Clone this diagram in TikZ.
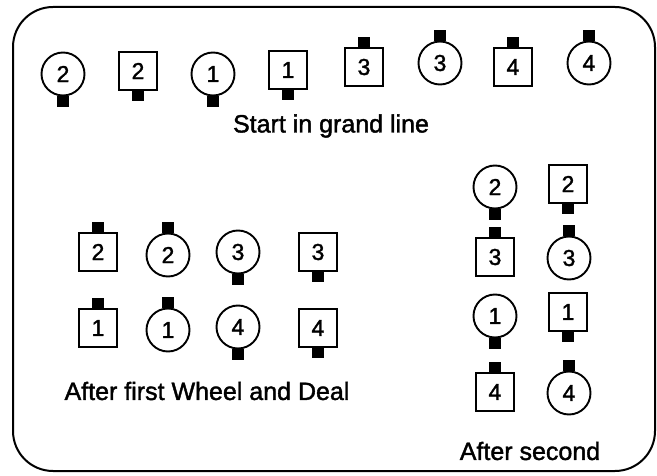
\documentclass[tikz,border=0pt]{standalone}
\usepackage{fontspec}
\setmainfont{Liberation Sans}[FakeBold=1.6]
\usetikzlibrary{positioning}
\tikzset{
  dancer/.style={draw, line width=1.9pt, inner sep=0pt, font=\fontsize{23}{23}\selectfont},
  boy/.style={dancer, rectangle, minimum size=38pt},
  girl/.style={dancer, circle, minimum size=43pt},
  nose/.style={fill=black, rectangle, minimum width=12pt, minimum height=11pt, inner sep=0pt, outer sep=0pt},
  down/.style={label={[nose, label distance=-0.5pt]below:{}}},
  up/.style={label={[nose, label distance=-0.5pt]above:{}}},
  caption/.style={font=\fontsize{25}{25}\selectfont},
}

\begin{document}
\begin{tikzpicture}[x=1pt, y=-1pt]
        \useasboundingbox (0,0) rectangle (657,476);
        \draw[line width=2pt, rounded corners=40pt] (13,7) rectangle (655,471);

        % start in grand line
        \node[girl, down] (sg2) at (63,74) {2};
        \node[boy, down]  (sb2) at (138,71) {2};
        \node[girl, down] (sg1) at (213,74) {1};
        \node[boy, down]  (sb1) at (288,70) {1};
        \node[boy, up]    (sb3) at (364,67) {3};
        \node[girl, up]   (sg3) at (440,63) {3};
        \node[boy, up]    (sb4) at (513,67) {4};
        \node[girl, up]   (sg4) at (589,63) {4};
        \node[caption] (start) at (331,126) {Start in grand line};

        % after first wheel and deal
        \node[boy, up]    (fb2) at (98,252) {2};
        \node[girl, up]   (fg2) at (168,255) {2};
        \node[girl, down] (fg3) at (238,252) {3};
        \node[boy, down]  (fb3) at (318,252) {3};
        \node[boy, up]    (fb1) at (98,328) {1};
        \node[girl, up]   (fg1) at (168,330) {1};
        \node[girl, down] (fg4) at (238,327) {4};
        \node[boy, down]  (fb4) at (318,328) {4};
        \node[caption] (first) at (207,391) {After first Wheel and Deal};

        % after second
        \node[girl, down] (tg2) at (495,187) {2};
        \node[boy, down]  (tb2) at (568,184) {2};
        \node[boy, up]    (tb3) at (495,257) {3};
        \node[girl, up]   (tg3) at (569,258) {3};
        \node[girl, down] (tg1) at (495,316) {1};
        \node[boy, down]  (tb1) at (568,312) {1};
        \node[boy, up]    (tb4) at (495,392) {4};
        \node[girl, up]   (tg4) at (569,393) {4};
        \node[caption] (second) at (530,451) {After second};
      \end{tikzpicture}
\end{document}
